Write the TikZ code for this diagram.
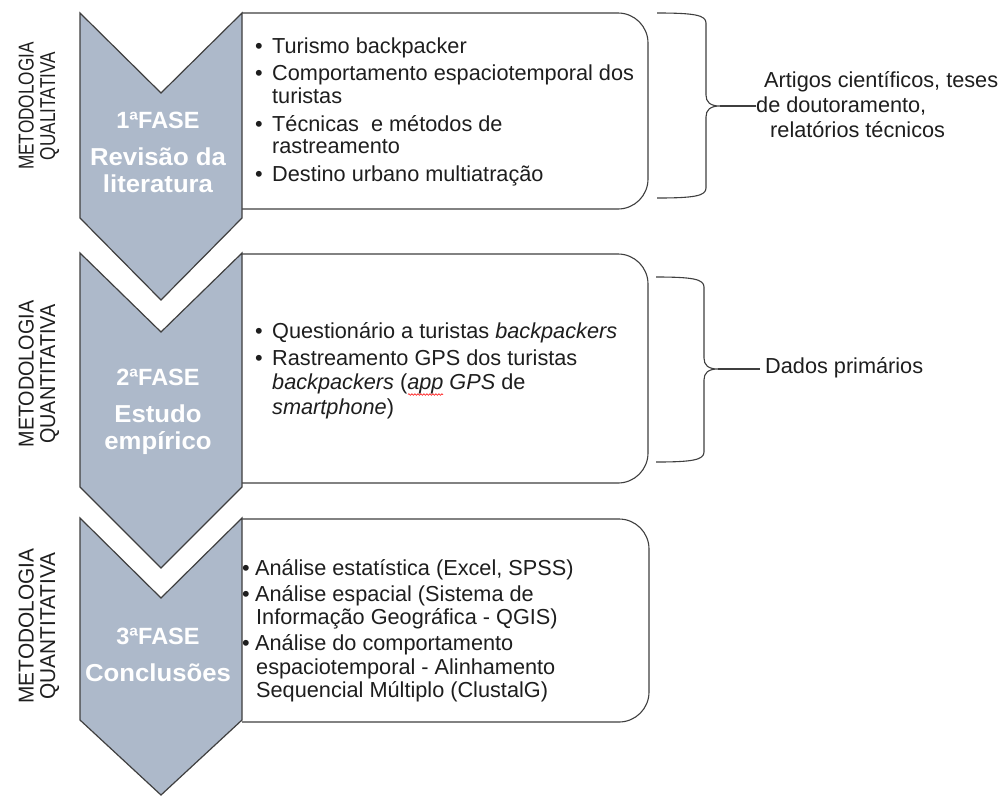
\documentclass[tikz,border=0pt]{standalone}
\usepackage{fontspec}
\setmainfont{Liberation Sans}
\usepackage{graphicx}
\usetikzlibrary{decorations.pathmorphing}

\definecolor{phasefill}{HTML}{ADB9CA}
\definecolor{edgegray}{HTML}{3F3F3F}
\definecolor{inkgray}{HTML}{1E1E1E}

% list helpers
\newcommand{\itemdot}{\makebox[17pt][l]{•}}
\newcommand{\itemgap}{\hspace*{17pt}}
\newcommand{\tightdot}{\makebox[13pt][l]{•}}
\newcommand{\tightgap}{\hspace*{14pt}}
\newcommand{\widen}[1]{\scalebox{1.05}[1]{#1}}
\newcommand{\phasesize}{\fontsize{23.5}{27}\selectfont}

\tikzset{
  phase/.style={fill=phasefill, draw=edgegray, line width=1.2pt, line join=miter},
  itembox/.style={draw=edgegray, line width=1.1pt, rounded corners=30pt},
  brace/.style={draw=edgegray, line width=1.1pt},
  lead/.style={draw=edgegray, line width=1.1pt},
  method/.style={rotate=90, inner sep=0pt, text=inkgray, font=\fontsize{21.5}{21.5}\selectfont},
  phasetext/.style={anchor=base, inner sep=0pt, text=white, font=\bfseries\fontsize{24.5}{27}\selectfont},
  listtext/.style={anchor=base west, inner sep=0pt, text=inkgray},
  source/.style={anchor=base west, inner sep=0pt, text=inkgray, font=\fontsize{21.7}{25}\selectfont},
  spellmark/.style={draw=red, line width=0.6pt, decorate, decoration={snake, amplitude=0.8pt, segment length=3pt}},
}

\begin{document}
\begin{tikzpicture}[x=1pt, y=-1pt]
  \fill[white] (0,0) rectangle (1008,796);
  \useasboundingbox (0,0) rectangle (1008,796);

  % content boxes (left side is covered by the phase arrows)
  \draw[itembox] (242,13) -- (648,13) -- (648,209) -- (242,209);
  \draw[itembox] (242,254) -- (648,254) -- (648,483) -- (242,483);
  \draw[itembox] (242,519) -- (649,519) -- (649,722) -- (242,722);

  % phase arrows
  \draw[phase] (80,13) -- (161,93) -- (242,13) -- (242,218) -- (161,300) -- (80,218) -- cycle;
  \draw[phase] (80,253) -- (161,332) -- (242,253) -- (242,487) -- (161,568) -- (80,487) -- cycle;
  \draw[phase] (80,518) -- (161,598) -- (242,518) -- (242,720) -- (161,795) -- (80,720) -- cycle;

  % phase titles
  \node[phasetext] (p1) at (158,128) {\begin{tabular}[t]{@{}c@{}}{\phasesize 1ªFASE}\\[10.5pt]\widen{Revisão da}\\\widen{literatura}\end{tabular}};
  \node[phasetext] (p2) at (158,385) {\begin{tabular}[t]{@{}c@{}}{\phasesize 2ªFASE}\\[10.5pt]\widen{Estudo}\\\widen{empírico}\end{tabular}};
  \node[phasetext] (p3) at (158,644) {\begin{tabular}[t]{@{}c@{}}{\phasesize 3ªFASE}\\[10.5pt]\widen{Conclusões}\end{tabular}};

  % methodology labels
  \node[method] (m1) at (40,106) {\scalebox{0.80}[1]{\begin{tabular}{@{}c@{}}METODOLOGIA\\QUALITATIVA\end{tabular}}};
  \node[method] (m2) at (40,374) {\scalebox{0.92}[1]{\begin{tabular}{@{}c@{}}METODOLOGIA\\QUANTITATIVA\end{tabular}}};
  \node[method] (m3) at (40,626) {\scalebox{0.97}[1]{\begin{tabular}{@{}c@{}}METODOLOGIA\\QUANTITATIVA\end{tabular}}};

  % box contents
  \node[listtext, font=\fontsize{21.7}{22.5}\selectfont] (l1) at (255,53.3) {\begin{tabular}[t]{@{}l@{}}
    \itemdot Turismo backpacker\\[5pt]
    \itemdot Comportamento espaciotemporal dos\\
    \itemgap turistas\\[5pt]
    \itemdot Técnicas\ \ e métodos de\\
    \itemgap rastreamento\\[5pt]
    \itemdot Destino urbano multiatração
  \end{tabular}};

  \node[listtext, font=\fontsize{21.7}{24.5}\selectfont] (l2) at (255,338.5) {\begin{tabular}[t]{@{}l@{}}
    \itemdot Questionário a turistas \textit{backpackers}\\[2pt]
    \itemdot Rastreamento GPS dos turistas\\
    \itemgap\textit{backpackers} (\textit{app GPS} de\\
    \itemgap\textit{smartphone})
  \end{tabular}};
  \draw[spellmark] (408,394.5) -- (443,394.5);

  \node[listtext, font=\fontsize{21.7}{23.5}\selectfont] (l3) at (242,575) {\begin{tabular}[t]{@{}l@{}}
    \tightdot Análise estatística (Excel, SPSS)\\[2.5pt]
    \tightdot Análise espacial (Sistema de\\
    \tightgap Informação Geográfica - QGIS)\\[2.5pt]
    \tightdot Análise do comportamento\\
    \tightgap espaciotemporal - Alinhamento\\
    \tightgap Sequencial Múltiplo (ClustalG)
  \end{tabular}};

  % braces and their sources
  \coordinate (b1tip) at (720,106);
  \draw[brace] (657,13) .. controls (694,13) and (706,15) .. (706,23) -- (706,95)
    .. controls (706,102) and (710,106) .. (b1tip)
    .. controls (710,106) and (706,110) .. (706,117) -- (706,188)
    .. controls (706,196) and (694,198) .. (657,198);
  \node[source] (src1) at (756,87) {\begin{tabular}[t]{@{}l@{}}\hspace*{8pt}Artigos científicos, teses\\de doutoramento,\\\hspace*{14pt}relatórios técnicos\end{tabular}};
  \draw[lead] (b1tip) -- (b1tip -| src1.west);

  \coordinate (b2tip) at (718,369);
  \draw[brace] (656,277) .. controls (692,277) and (704,279) .. (704,287) -- (704,358)
    .. controls (704,365) and (708,369) .. (b2tip)
    .. controls (708,369) and (704,373) .. (704,380) -- (704,452)
    .. controls (704,460) and (692,462) .. (656,462);
  \node[source, inner xsep=5pt] (dados) at (760,373) {Dados primários};
  \draw[lead] (b2tip) -- (b2tip -| dados.west);
\end{tikzpicture}
\end{document}
